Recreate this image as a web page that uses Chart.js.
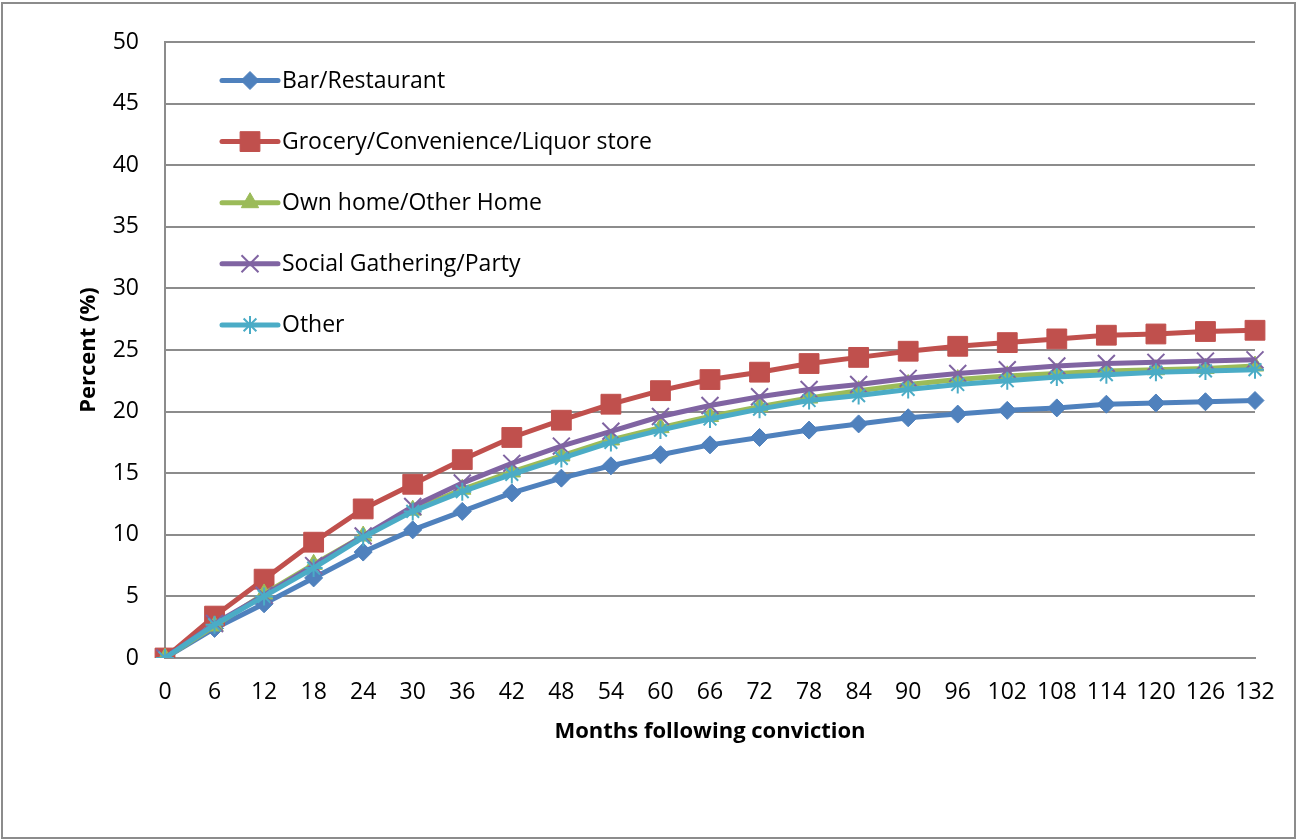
<!DOCTYPE html>
<html>
<head>
<meta charset="utf-8">
<script src="https://cdn.jsdelivr.net/npm/chart.js@4.4.1/dist/chart.umd.min.js"></script>
<style>
  html, body { margin: 0; padding: 0; background: #fff; }
  #wrap { width: 1297px; height: 839px; position: relative; }
</style>
</head>
<body>
<div id="wrap"><canvas id="chart" width="1297" height="839"></canvas></div>
<script>
// Months following conviction (category ticks)
const months = ['0', '6', '12', '18', '24', '30', '36', '42', '48', '54', '60', '66',
                '72', '78', '84', '90', '96', '102', '108', '114', '120', '126', '132'];

// Percent (%) per place of last drink
const barRestaurant = [0, 2.4, 4.4, 6.5, 8.6, 10.4, 11.9, 13.4, 14.6, 15.6, 16.5, 17.3,
                       17.9, 18.5, 19.0, 19.5, 19.8, 20.1, 20.3, 20.6, 20.7, 20.8, 20.9];
const groceryStore = [0, 3.4, 6.4, 9.4, 12.1, 14.1, 16.1, 17.9, 19.3, 20.6, 21.7, 22.6,
                      23.2, 23.9, 24.4, 24.9, 25.3, 25.6, 25.9, 26.2, 26.3, 26.5, 26.6];
const ownHome = [0, 2.6, 5.2, 7.6, 9.9, 12.0, 13.7, 15.1, 16.4, 17.7, 18.7, 19.6,
                 20.4, 21.1, 21.7, 22.2, 22.6, 22.9, 23.1, 23.3, 23.4, 23.5, 23.7];
const socialParty = [0, 2.8, 5.1, 7.5, 9.9, 12.3, 14.2, 15.8, 17.2, 18.4, 19.6, 20.5,
                     21.2, 21.8, 22.2, 22.7, 23.1, 23.4, 23.7, 23.9, 24.0, 24.1, 24.2];
const otherPlace = [0, 2.7, 5.0, 7.3, 9.8, 11.9, 13.5, 14.9, 16.2, 17.5, 18.5, 19.4,
                    20.2, 20.9, 21.3, 21.8, 22.2, 22.5, 22.8, 23.0, 23.2, 23.3, 23.4];

const yTicks = [0, 5, 10, 15, 20, 25, 30, 35, 40, 45, 50];

const FONT = '"Open Sans", "Liberation Sans", sans-serif';
const GRID = '#8c8c8c';

function series(label, data, color, style, radius, order) {
    const filled = style !== 'crossRot' && style !== 'star';
    return {
        label: label,
        data: data,
        borderColor: color,
        backgroundColor: color,
        borderWidth: 5,
        tension: 0,
        pointStyle: style,
        pointRadius: radius,
        pointHoverRadius: radius,
        pointBackgroundColor: color,
        pointBorderColor: color,
        pointBorderWidth: filled ? 1 : 2,
        order: order
    };
}

const datasets = [
    series('Bar/Restaurant', barRestaurant, '#4f81bd', 'rectRot', 9, 4),
    series('Grocery/Convenience/Liquor store', groceryStore, '#c0504d', 'rect', 14, 3),
    series('Own home/Other Home', ownHome, '#9bbb59', 'triangle', 10, 2),
    series('Social Gathering/Party', socialParty, '#8064a2', 'crossRot', 12, 1),
    series('Other', otherPlace, '#4bacc6', 'star', 9, 0)
];

// Outer frame + legend drawn inside the plot, like the original
const framePlugin = {
    id: 'frame',
    beforeDraw(chart) {
        const ctx = chart.ctx;
        ctx.save();
        ctx.fillStyle = '#fff';
        ctx.fillRect(0, 0, chart.width, chart.height);
        ctx.strokeStyle = '#8c8c8c';
        ctx.lineWidth = 2;
        ctx.strokeRect(2, 3, chart.width - 4, chart.height - 4);
        ctx.restore();
    },
    afterDraw(chart) {
        const ctx = chart.ctx;
        const x0 = 222, x1 = 278, tx = 282;
        ctx.save();
        chart.data.datasets.forEach((ds, i) => {
            const y = 80.5 + i * 61.1;
            ctx.strokeStyle = ds.borderColor;
            ctx.lineWidth = 5;
            ctx.lineCap = 'round';
            ctx.beginPath();
            ctx.moveTo(x0, y);
            ctx.lineTo(x1, y);
            ctx.stroke();
            ctx.fillStyle = ds.pointBackgroundColor;
            ctx.strokeStyle = ds.pointBorderColor;
            ctx.lineWidth = ds.pointBorderWidth;
            ctx.lineCap = 'butt';
            Chart.helpers.drawPoint(ctx, {
                pointStyle: ds.pointStyle,
                radius: ds.pointRadius,
                rotation: 0,
                borderWidth: ds.pointBorderWidth
            }, (x0 + x1) / 2, y);
            ctx.fillStyle = '#000';
            ctx.font = '23px ' + FONT;
            ctx.textBaseline = 'middle';
            ctx.textAlign = 'left';
            ctx.fillText(ds.label, tx, y + 1);
        });
        ctx.restore();
    }
};

const ctx = document.getElementById('chart').getContext('2d');
new Chart(ctx, {
    type: 'line',
    data: { labels: months, datasets: datasets },
    plugins: [framePlugin],
    options: {
        responsive: false,
        animation: false,
        layout: { padding: { top: 42, right: 42, left: 0, bottom: 0 } },
        plugins: {
            legend: { display: false },
            tooltip: { enabled: false }
        },
        scales: {
            x: {
                type: 'category',
                offset: false,
                afterFit: s => { s.height = 181; },
                grid: { display: false, drawTicks: false },
                border: { display: true, color: GRID, width: 2 },
                ticks: { color: '#000', font: { family: FONT, size: 23 }, padding: 21, maxRotation: 0, autoSkip: false },
                title: {
                    display: true,
                    text: 'Months following conviction',
                    color: '#000',
                    font: { family: FONT, size: 22, weight: 'bold' },
                    padding: { top: 0, bottom: 94 }
                }
            },
            y: {
                min: 0,
                max: 50,
                afterFit: s => { s.width = 165; },
                afterBuildTicks: s => { s.ticks = yTicks.map(v => ({ value: v })); },
                grid: { color: GRID, lineWidth: 2, drawTicks: false },
                border: { display: true, color: GRID, width: 2 },
                ticks: { color: '#000', font: { family: FONT, size: 23 }, padding: 26 },
                title: {
                    display: true,
                    text: 'Percent (%)',
                    color: '#000',
                    font: { family: FONT, size: 22, weight: 'bold' },
                    padding: { top: 76, bottom: 0 }
                }
            }
        }
    }
});
</script>
</body>
</html>
